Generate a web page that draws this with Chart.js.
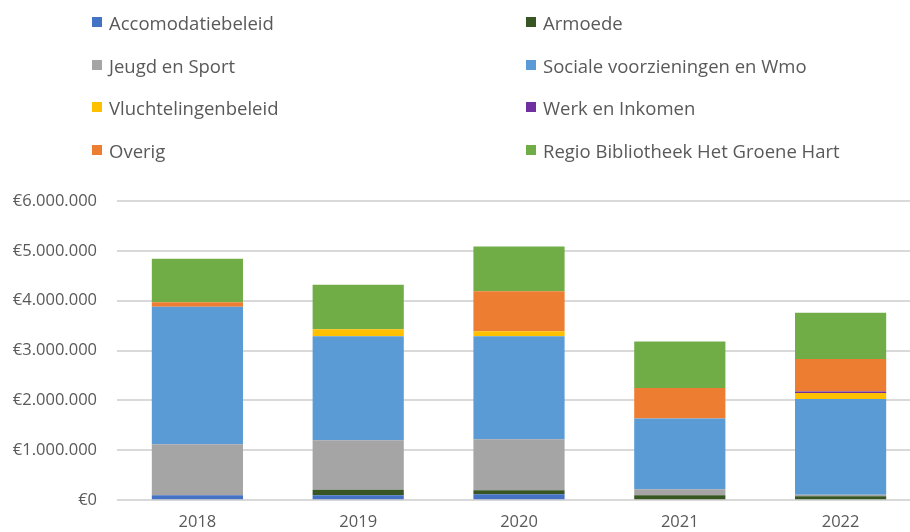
<!DOCTYPE html>
<html>
<head>
<meta charset="utf-8">
<script src="https://cdn.jsdelivr.net/npm/chart.js@4"></script>
<style>
  html, body { margin: 0; padding: 0; background: #fff; overflow: hidden; width: 910px; height: 532px; }
  #wrap { position: absolute; left: 0; top: 0; width: 921px; height: 544px; }
  #legend { position: absolute; left: 0; top: 0; width: 910px; height: 180px; font-family: "Open Sans", sans-serif; font-size: 18.5px; color: #595959; }
  .item { position: absolute; display: flex; align-items: center; white-space: nowrap; }
  .box { width: 10px; height: 10px; margin-right: 7px; }
</style>
</head>
<body>
<div id="wrap"><canvas id="c" width="921" height="544"></canvas></div>
<div id="legend"></div>
<script>
const categories = ['2018', '2019', '2020', '2021', '2022'];
const seriesNames = ['Accomodatiebeleid', 'Armoede', 'Jeugd en Sport', 'Sociale voorzieningen en Wmo', 'Vluchtelingenbeleid', 'Werk en Inkomen', 'Overig', 'Regio Bibliotheek Het Groene Hart'];
const accomodatiebeleid = [100000, 100000, 120000, 20000, 0];
const armoede = [0, 110000, 80000, 80000, 80000];
const jeugdEnSport = [1020000, 990000, 1020000, 120000, 30000];
const socialeVoorzieningen = [2760000, 2090000, 2070000, 1420000, 1920000];
const vluchtelingenbeleid = [0, 140000, 100000, 0, 120000];
const werkEnInkomen = [0, 0, 0, 0, 30000];
const overig = [90000, 0, 800000, 610000, 650000];
const regioBibliotheek = [870000, 890000, 900000, 930000, 930000];
const colors = ['#4472C4', '#375623', '#A5A5A5', '#5B9BD5', '#FFC000', '#7030A0', '#ED7D31', '#70AD47'];
const seriesData = [accomodatiebeleid, armoede, jeugdEnSport, socialeVoorzieningen, vluchtelingenbeleid, werkEnInkomen, overig, regioBibliotheek];

const datasets = seriesNames.map((n, i) => ({
  label: n,
  data: seriesData[i],
  backgroundColor: colors[i],
  borderWidth: 0,
  categoryPercentage: 1.0,
  barPercentage: 0.567
}));

// HTML legend (2 columns, 4 rows)
const legend = document.getElementById('legend');
const rowsY = [22, 65, 107, 150];
const colsX = [92, 526];
seriesNames.forEach((n, i) => {
  const d = document.createElement('div');
  d.className = 'item';
  d.style.left = colsX[i % 2] + 'px';
  d.style.top = (rowsY[Math.floor(i / 2)] - 12) + 'px';
  d.style.height = '24px';
  d.innerHTML = '<span class="box" style="background:' + colors[i] + '"></span><span>' + n + '</span>';
  legend.appendChild(d);
});

function euro(v) {
  return '€' + Math.round(v).toString().replace(/\B(?=(\d{3})+(?!\d))/g, '.');
}

new Chart(document.getElementById('c'), {
  type: 'bar',
  data: { labels: categories, datasets },
  options: {
    responsive: false,
    animation: false,
    layout: { padding: { top: 201, left: 0, right: 0, bottom: 0 } },
    plugins: { legend: { display: false }, tooltip: { enabled: false } },
    scales: {
      x: {
        stacked: true,
        grid: { display: false, drawTicks: false },
        border: { display: false },
        ticks: { color: '#595959', font: { family: 'Open Sans', size: 16.5 }, padding: 12 }
      },
      y: {
        stacked: true,
        min: 0, max: 6000000,
        afterFit: s => { s.width = 117; },
        grid: { color: '#D9D9D9', lineWidth: 2, drawTicks: false },
        border: { display: false },
        ticks: {
          stepSize: 1000000,
          padding: 20,
          color: '#595959',
          font: { family: 'Open Sans', size: 16.5 },
          callback: v => euro(v)
        }
      }
    }
  }
});
</script>
</body>
</html>
